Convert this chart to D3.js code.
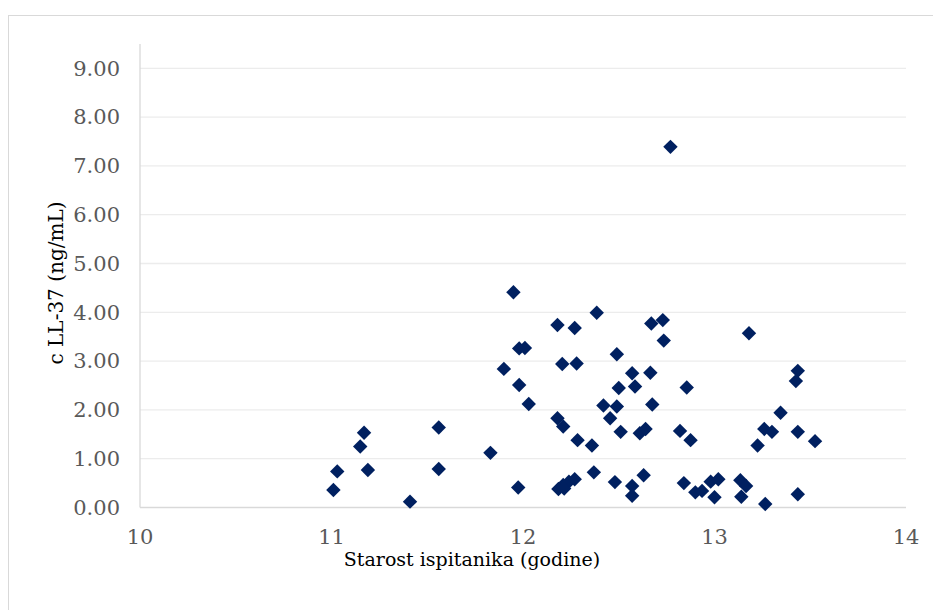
<!DOCTYPE html>
<html>
<head>
<meta charset="utf-8">
<script src="https://cdn.jsdelivr.net/npm/d3@7"></script>
<style>
  html, body { margin: 0; padding: 0; background: #ffffff; }
  svg { display: block; }
  svg text { font-family: "DejaVu Serif", "Liberation Serif", serif; }
</style>
</head>
<body>
<svg id="chart" width="933" height="610"></svg>
<script>
// Age of participants (years)
const ages = [
  11.01, 11.03, 11.15, 11.17, 11.19, 11.41, 11.56, 11.56, 11.83, 11.90,
  11.95, 11.98, 11.98, 12.01, 12.03, 11.975, 12.18, 12.27, 12.385, 12.205,
  12.28, 12.18, 12.21, 12.285, 12.36, 12.42, 12.49, 12.455, 12.49, 12.50,
  12.51, 12.37, 12.27, 12.24, 12.21, 12.185, 12.215, 12.48, 12.57, 12.57,
  12.57, 12.585, 12.61, 12.64, 12.63, 12.67, 12.73, 12.735, 12.665, 12.675,
  12.77, 12.82, 12.855, 12.875, 12.84, 12.90, 12.935, 12.98, 13.02, 13.00,
  13.18, 13.345, 13.26, 13.30, 13.225, 13.435, 13.425, 13.435, 13.525, 13.435,
  13.265, 13.135, 13.165, 13.14
];
// cLL-37 concentration (ng/mL)
const cll37 = [
  0.36, 0.74, 1.25, 1.53, 0.77, 0.12, 1.64, 0.79, 1.12, 2.84,
  4.41, 2.51, 3.26, 3.27, 2.12, 0.41, 3.74, 3.68, 3.99, 2.94,
  2.95, 1.83, 1.66, 1.38, 1.27, 2.09, 2.07, 1.83, 3.14, 2.45,
  1.55, 0.72, 0.58, 0.53, 0.46, 0.38, 0.39, 0.52, 0.44, 0.24,
  2.75, 2.48, 1.52, 1.61, 0.66, 3.77, 3.84, 3.42, 2.76, 2.11,
  7.39, 1.57, 2.46, 1.38, 0.50, 0.31, 0.34, 0.53, 0.58, 0.21,
  3.57, 1.94, 1.61, 1.55, 1.27, 2.80, 2.59, 1.55, 1.36, 0.27,
  0.07, 0.56, 0.44, 0.22
];
const xTicks = [10, 11, 12, 13, 14];
const yTicks = [0, 1, 2, 3, 4, 5, 6, 7, 8, 9];
const xTitle = "Starost ispitanika (godine)";
const yTitle = "c LL-37 (ng/mL)";

const svg = d3.select("#chart");

// chart border
svg.append("rect")
  .attr("x", 8.5).attr("y", 15.5)
  .attr("width", 940).attr("height", 700)
  .attr("fill", "#ffffff").attr("stroke", "#d9d9d9").attr("stroke-width", 1);

const left = 140, right = 906, bottom = 507.5;
const x = d3.scaleLinear().domain([10, 14]).range([left, right]);
const y = d3.scaleLinear().domain([0, 9.5]).range([bottom, bottom - 9.5 * 48.8]);

// gridlines
svg.append("g").selectAll("line")
  .data(yTicks.filter(t => t > 0))
  .join("line")
  .attr("x1", left).attr("x2", right)
  .attr("y1", d => y(d)).attr("y2", d => y(d))
  .attr("stroke", "#ececec").attr("stroke-width", 1.3);

// axes lines
svg.append("line")
  .attr("x1", left).attr("x2", left)
  .attr("y1", y(9.5)).attr("y2", y(0))
  .attr("stroke", "#d9d9d9").attr("stroke-width", 1.3);
svg.append("line")
  .attr("x1", left).attr("x2", right)
  .attr("y1", y(0)).attr("y2", y(0))
  .attr("stroke", "#d9d9d9").attr("stroke-width", 1.3);

// y tick labels
svg.append("g").selectAll("text")
  .data(yTicks)
  .join("text")
  .attr("x", 120)
  .attr("y", d => y(d))
  .attr("dy", "0.35em")
  .attr("text-anchor", "end")
  .attr("font-size", 21)
  .attr("fill", "#595959")
  .text(d => d3.format(".2f")(d));

// x tick labels
svg.append("g").selectAll("text")
  .data(xTicks)
  .join("text")
  .attr("x", d => x(d))
  .attr("y", 544)
  .attr("text-anchor", "middle")
  .attr("font-size", 21)
  .attr("fill", "#595959")
  .text(d => d);

// axis titles
svg.append("text")
  .attr("x", 472).attr("y", 566)
  .attr("text-anchor", "middle")
  .attr("font-size", 19)
  .attr("fill", "#000000")
  .text(xTitle);

svg.append("text")
  .attr("transform", "translate(63," + 283 + ") rotate(-90)")
  .attr("text-anchor", "middle")
  .attr("font-size", 20)
  .attr("fill", "#000000")
  .text(yTitle);

// points
const pts = ages.map((a, i) => ({ a, v: cll37[i] }));
const sym = d3.symbol().type(d3.symbolSquare).size(104);
svg.append("g").selectAll("path")
  .data(pts)
  .join("path")
  .attr("d", sym)
  .attr("transform", d => "translate(" + x(d.a) + "," + y(d.v) + ") rotate(45)")
  .attr("fill", "#002060");
</script>
</body>
</html>
